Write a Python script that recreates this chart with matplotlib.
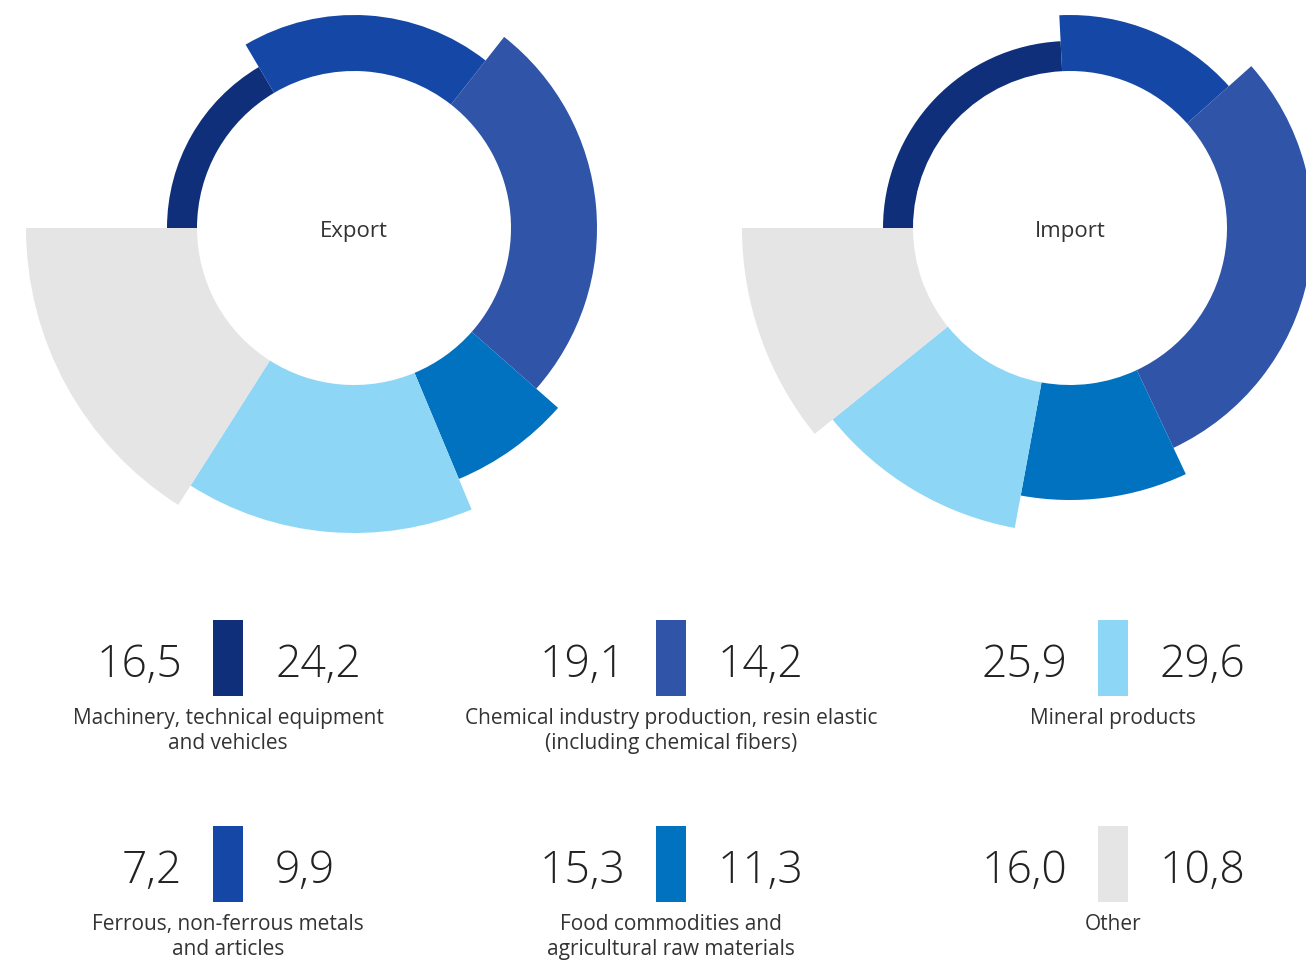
import numpy as np
import matplotlib
matplotlib.use("Agg")
import matplotlib.pyplot as plt
from matplotlib.patches import Wedge

plt.rcParams['font.family'] = ['Open Sans', 'DejaVu Sans']

# data (shares, %)
categories = ["Machinery, technical equipment\nand vehicles",
              "Chemical industry production, resin elastic\n(including chemical fibers)",
              "Mineral products",
              "Ferrous, non-ferrous metals\nand articles",
              "Food commodities and\nagricultural raw materials",
              "Other"]
export_share = [16.5, 19.1, 25.9, 7.2, 15.3, 16.0]
import_share = [24.2, 14.2, 29.6, 9.9, 11.3, 10.8]
export_lbl = ["16,5", "19,1", "25,9", "7,2", "15,3", "16,0"]
import_lbl = ["24,2", "14,2", "29,6", "9,9", "11,3", "10,8"]

# colours
navy, royal, medium, fblue, light, grey = "#0f2f7b", "#1547a6", "#2f54a8", "#0072bf", "#8ed6f6", "#e5e5e5"
legend_colors = [navy, medium, light, royal, fblue, grey]
ring_colors = [navy, royal, medium, fblue, light, grey]
ring_radii = [187, 213, 243, 272, 305, 328]
r_in = 157

fig = plt.figure(figsize=(13.06, 9.6), dpi=100)
ax = fig.add_axes([0, 0, 1, 1])
ax.set_xlim(0, 1306)
ax.set_ylim(960, 0)
ax.axis("off")


def donut(cx, cy, shares, title):
    cum = np.concatenate([[0], np.cumsum(shares)]) / np.sum(shares) * 360
    for i in range(len(shares)):
        w = Wedge((cx, cy), ring_radii[i], 180 + cum[i], 180 + cum[i + 1],
                  width=ring_radii[i] - r_in, facecolor=ring_colors[i],
                  edgecolor="none")
        ax.add_patch(w)
    ax.text(cx, cy + 3, title, ha="center", va="center", fontsize=16, color="#333333")


donut(354, 228, export_share, "Export")
donut(1070, 228, import_share, "Import")

# legend blocks
col_x = [228, 671, 1113]
row_top = [620, 826]
bw, bh = 30, 76
for i, cat in enumerate(categories):
    x = col_x[i % 3]
    y = row_top[i // 3]
    ax.bar(x, bh, width=bw, bottom=y, color=legend_colors[i], align="center")
    ax.text(x - bw / 2 - 31, y + 57, export_lbl[i], ha="right", va="baseline",
            fontsize=32, fontweight="light", color="#222222")
    ax.text(x + bw / 2 + 32, y + 57, import_lbl[i], ha="left", va="baseline",
            fontsize=32, fontweight="light", color="#222222")
    ax.text(x, y + 88, cat, ha="center", va="top", fontsize=15,
            color="#333333", linespacing=1.25)

fig.savefig("out.png", dpi=100, facecolor="white")
